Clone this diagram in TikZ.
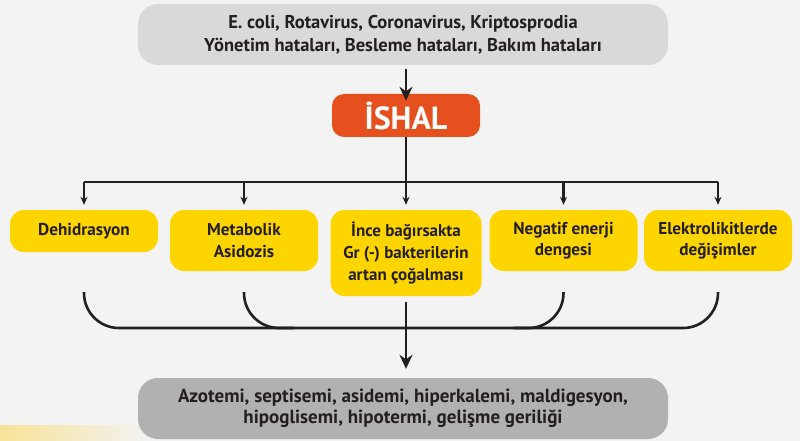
\documentclass[tikz,border=0pt]{standalone}
\usepackage{fontspec}
\setmainfont{PT Sans}
\usetikzlibrary{arrows.meta,positioning}
\definecolor{zemin}{HTML}{F3F3F3}
\definecolor{acikgri}{HTML}{D9D9D9}
\definecolor{koyugri}{HTML}{B1B1B1}
\definecolor{turuncu}{HTML}{E6501E}
\definecolor{sari}{HTML}{FFD500}
\definecolor{sariacik}{HTML}{F7E397}
\definecolor{yazi}{HTML}{231F20}
\tikzstyle{kutu}=[align=center,inner sep=0pt,text=yazi]

\begin{document}
\begin{tikzpicture}[x=1pt,y=-1pt,
                    baglanti/.style={line width=2.6pt,draw=yazi},
                    buyuk ok/.style={-{Stealth[length=14pt,width=13pt]}},
                    kucuk ok/.style={-{Stealth[length=8pt,width=7pt]}},
                    gri kutu/.style={kutu,rounded corners=20pt,minimum width=530pt,minimum height=61pt,
                                     font=\bfseries\fontsize{18.5}{23}\selectfont},
                    sari kutu/.style={kutu,fill=sari,rounded corners=14pt,minimum width=148pt,minimum height=61pt,
                                      font=\bfseries\fontsize{17.2}{21.5}\selectfont}]
\fill[zemin] (0,0) rectangle (800,441);
\shade[left color=sariacik,right color=zemin] (0,425) rectangle (150,441);

\node[gri kutu,fill=acikgri] (neden) at (403,34.5)
  {E. coli, Rotavirus, Coronavirus, Kriptosprodia\\Yönetim hataları, Besleme hataları, Bakım hataları};
\node[kutu,fill=turuncu,text=white,rounded corners=12pt,minimum width=148pt,minimum height=43pt,
      font=\bfseries\fontsize{32}{34}\selectfont] (ishal) at (406,115.5) {İSHAL};

\node[sari kutu,minimum height=42pt] (dehid) at (84,231) {Dehidrasyon};
\node[sari kutu] (metab) at (244,240.5) {Metabolik\\Asidozis};
\node[sari kutu,minimum width=151pt,minimum height=86pt,font=\bfseries\fontsize{17}{22}\selectfont] (ince) at (406,253)
  {İnce bağırsakta\\Gr (-) bakterilerin\\artan çoğalması};
\node[sari kutu] (negat) at (563.5,240.5) {Negatif enerji\\dengesi};
\node[sari kutu] (elekt) at (718,240.5) {Elektrolikitlerde\\değişimler};

\node[gri kutu,fill=koyugri,font=\bfseries\fontsize{19}{21.5}\selectfont] (sonuc) at (403,408.5)
  {Azotemi, septisemi, asidemi, hiperkalemi, maldigesyon,\\hipoglisemi, hipotermi, gelişme geriliği};

\coordinate (dal) at (406,182);
\coordinate (kol) at (0,292);
\coordinate (taban) at (0,328);

\draw[baglanti,buyuk ok,shorten <=4pt,shorten >=-7pt] (neden.south -| ishal) -- (ishal.north);
\draw[baglanti] (ishal.south) -- (dal);
\draw[baglanti] (dehid |- dal) -- (elekt |- dal);
\foreach \k in {dehid,metab,ince,negat,elekt}
  \draw[baglanti,kucuk ok,shorten >=5pt] (\k |- dal) -- (\k.north);

\draw[baglanti,rounded corners=35pt] (dehid |- kol) -- (dehid |- taban) -- (elekt |- taban) -- (elekt |- kol);
\draw[baglanti,rounded corners=35pt] (metab |- kol) -- (metab |- taban) -- ++(50,0);
\draw[baglanti,rounded corners=35pt] (negat |- kol) -- (negat |- taban) -- ++(-50,0);

\draw[baglanti,buyuk ok,shorten <=6pt,shorten >=9pt] (ince.south) -- (ince.south |- sonuc.north);
\end{tikzpicture}
\end{document}
